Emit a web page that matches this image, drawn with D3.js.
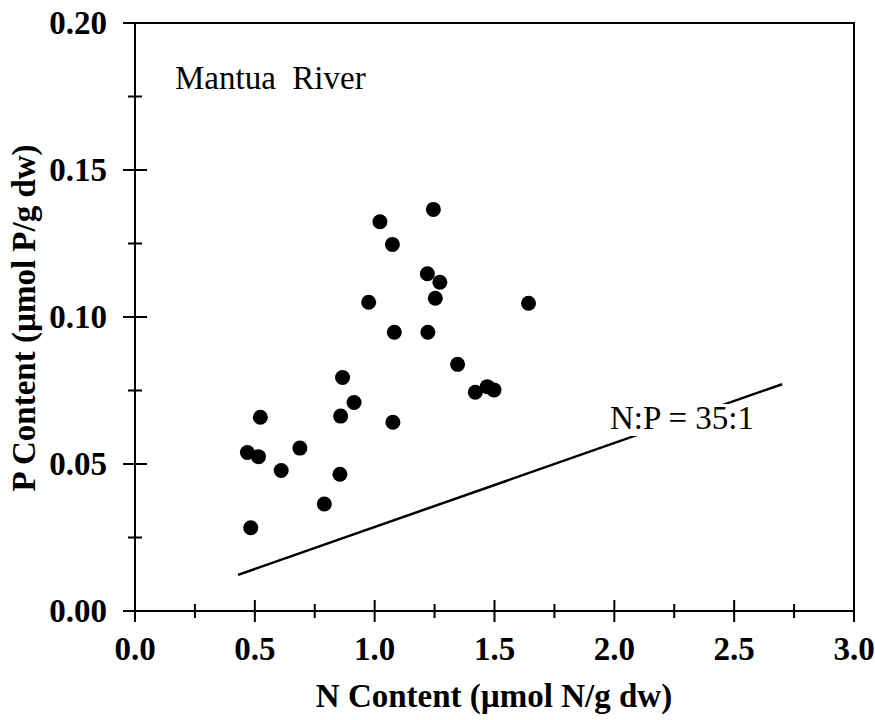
<!DOCTYPE html>
<html>
<head>
<meta charset="utf-8">
<script src="https://cdn.jsdelivr.net/npm/d3@7"></script>
<style>
  body { margin: 0; background: #fff; }
</style>
</head>
<body>
<div id="chart"></div>
<script>
// N content (umol N/g dw) vs P content (umol P/g dw), Mantua River
var nContent = [1.245, 1.022, 1.074, 1.220, 1.272, 1.253, 0.975, 1.642, 1.082, 1.222,
                1.346, 0.866, 1.470, 1.420, 1.498, 0.914, 0.858, 0.523, 1.076,
                0.469, 0.515, 0.688, 0.610, 0.855, 0.790, 0.483];
var pContent = [0.1366, 0.1324, 0.1247, 0.1147, 0.1118, 0.1064, 0.1050, 0.1047, 0.0948, 0.0948,
                0.0839, 0.0794, 0.0763, 0.0744, 0.0752, 0.0709, 0.0663, 0.0659, 0.0642,
                0.0539, 0.0525, 0.0554, 0.0478, 0.0465, 0.0364, 0.0283];

var xTicks = [0, 0.5, 1.0, 1.5, 2.0, 2.5, 3.0];
var xMinor = [0.25, 0.75, 1.25, 1.75, 2.25, 2.75];
var yTicks = [0, 0.05, 0.10, 0.15, 0.20];
var yMinor = [0.025, 0.075, 0.125, 0.175];

// N:P = 35:1 reference line
var ratioN = [0.43, 2.70];
var ratio = 35;

var width = 875, height = 720;
var margin = {left: 135, right: 21, top: 23, bottom: 109};
var serif = "'Liberation Serif', 'Times New Roman', Times, 'DejaVu Serif', serif";

var svg = d3.select("#chart").append("svg")
  .attr("width", width)
  .attr("height", height)
  .attr("font-family", serif);

var x = d3.scaleLinear().domain([0, 3]).range([margin.left, width - margin.right]);
var y = d3.scaleLinear().domain([0, 0.2]).range([height - margin.bottom, margin.top]);

// frame (top + right)
svg.append("path")
  .attr("d", "M" + x(0) + "," + y(0.2) + "H" + x(3) + "V" + y(0))
  .style("fill", "none")
  .style("stroke", "#000")
  .style("stroke-width", 2);

// x axis
var xAxis = svg.append("g").attr("transform", "translate(0," + y(0) + ")");
xAxis.append("line")
  .attr("x1", x(0) - 12).attr("x2", x(3))
  .style("stroke", "#000").style("stroke-width", 2);
xAxis.selectAll(".maj").data(xTicks).enter().append("line")
  .attr("x1", function(d) { return x(d); }).attr("x2", function(d) { return x(d); })
  .attr("y1", -11).attr("y2", 11)
  .style("stroke", "#000").style("stroke-width", 2);
xAxis.selectAll(".min").data(xMinor).enter().append("line")
  .attr("x1", function(d) { return x(d); }).attr("x2", function(d) { return x(d); })
  .attr("y1", -7).attr("y2", 7)
  .style("stroke", "#000").style("stroke-width", 2);
xAxis.selectAll(".lab").data(xTicks).enter().append("text")
  .attr("x", function(d) { return x(d); })
  .attr("y", 49)
  .attr("text-anchor", "middle")
  .style("font-size", "33px").style("font-weight", "bold")
  .text(function(d) { return d3.format(".1f")(d); });

// y axis
var yAxis = svg.append("g").attr("transform", "translate(" + x(0) + ",0)");
yAxis.append("line")
  .attr("y1", y(0)).attr("y2", y(0.2))
  .style("stroke", "#000").style("stroke-width", 2);
yAxis.selectAll(".maj").data(yTicks).enter().append("line")
  .attr("y1", function(d) { return y(d); }).attr("y2", function(d) { return y(d); })
  .attr("x1", -12).attr("x2", 12)
  .style("stroke", "#000").style("stroke-width", 2);
yAxis.selectAll(".min").data(yMinor).enter().append("line")
  .attr("y1", function(d) { return y(d); }).attr("y2", function(d) { return y(d); })
  .attr("x1", -7).attr("x2", 7)
  .style("stroke", "#000").style("stroke-width", 2);
yAxis.selectAll(".lab").data(yTicks).enter().append("text")
  .attr("x", -28)
  .attr("y", function(d) { return y(d) + 11; })
  .attr("text-anchor", "end")
  .style("font-size", "33px").style("font-weight", "bold")
  .text(function(d) { return d3.format(".2f")(d); });

// axis titles
svg.append("text")
  .attr("x", 494)
  .attr("y", 707)
  .attr("text-anchor", "middle")
  .style("font-size", "33px").style("font-weight", "bold")
  .text("N Content (µmol N/g dw)");

svg.append("text")
  .attr("transform", "translate(35,318) rotate(-90)")
  .attr("text-anchor", "middle")
  .style("font-size", "33px").style("font-weight", "bold")
  .text("P Content (µmol P/g dw)");

// reference line
svg.append("line")
  .attr("x1", x(ratioN[0])).attr("y1", y(ratioN[0] / ratio))
  .attr("x2", x(ratioN[1])).attr("y2", y(ratioN[1] / ratio))
  .style("stroke", "#000").style("stroke-width", 2.5);

var lab = svg.append("g");
var labText = lab.append("text")
  .attr("x", 610)
  .attr("y", 429)
  .style("font-size", "33px")
  .text("N:P = 35:1");
var bb = labText.node().getBBox();
lab.insert("rect", "text")
  .attr("x", bb.x - 1).attr("y", bb.y + 4)
  .attr("width", bb.width - 2).attr("height", bb.height - 4)
  .style("fill", "#fff");

// points
svg.selectAll("circle").data(nContent).enter().append("circle")
  .attr("cx", function(d) { return x(d); })
  .attr("cy", function(d, i) { return y(pContent[i]); })
  .attr("r", 7.5)
  .style("fill", "#000");

svg.append("text")
  .attr("x", 175)
  .attr("y", 89)
  .style("font-size", "33px")
  .attr("xml:space", "preserve")
  .text("Mantua  River");
</script>
</body>
</html>
